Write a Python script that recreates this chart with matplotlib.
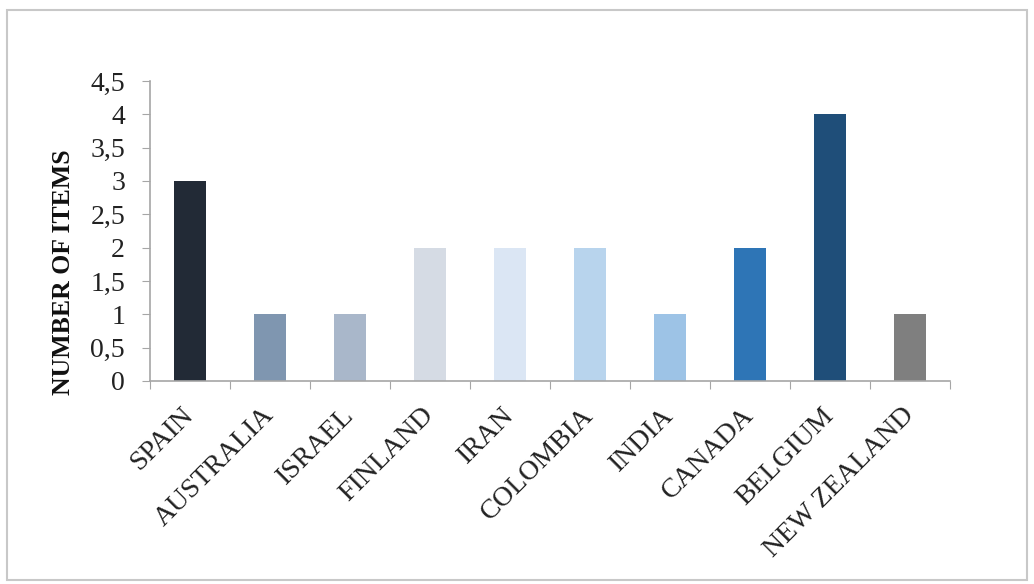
import matplotlib
matplotlib.use("Agg")
import matplotlib.pyplot as plt
from matplotlib.patches import Rectangle

countries = ["SPAIN", "AUSTRALIA", "ISRAEL", "FINLAND", "IRAN", "COLOMBIA",
             "INDIA", "CANADA", "BELGIUM", "NEW ZEALAND"]
items = [3, 1, 1, 2, 2, 2, 1, 2, 4, 1]
bar_colors = ["#222a36", "#7f96b0", "#a9b7ca", "#d5dbe4", "#dbe6f4",
              "#b8d4ed", "#9dc3e6", "#2e75b6", "#1f4e79", "#7f7f7f"]
y_ticks = [0, 0.5, 1, 1.5, 2, 2.5, 3, 3.5, 4, 4.5]
y_tick_labels = ["0", "0,5", "1", "1,5", "2", "2,5", "3", "3,5", "4", "4,5"]

plt.rcParams['font.family'] = ['Liberation Serif', 'DejaVu Serif']

fig = plt.figure(figsize=(10.34, 5.84), dpi=100)
fig.patches.append(Rectangle((7/1034, 4/584), 1020/1034, 570/584,
                             transform=fig.transFigure, fill=False,
                             edgecolor="#c8c8c8", linewidth=1.5))
ax = fig.add_axes([150/1034, 1 - 381/584, 800/1034, 300/584])

x = list(range(len(countries)))
ax.bar(x, items, width=0.4, color=bar_colors)
ax.set_xlim(-0.5, len(countries) - 0.5)
ax.set_ylim(0, 4.5)

ax.set_yticks(y_ticks)
ax.set_yticklabels(y_tick_labels, fontsize=20, color="#222222")
ax.set_xticks([i - 0.5 for i in range(len(countries) + 1)], minor=False)
ax.set_xticklabels([""] * (len(countries) + 1))
ax.set_xticks(x, minor=True)
ax.set_xticklabels(countries, minor=True, rotation=45, ha='right', va='center',
                   rotation_mode='anchor', fontsize=20, color="#222222")
ax.tick_params(axis='x', which='minor', length=0, pad=22)
ax.tick_params(axis='x', which='major', length=6, color="#a6a6a6", direction='out')
ax.tick_params(axis='y', length=6, color="#a6a6a6", direction='out', pad=12)

for s in ["top", "right"]:
    ax.spines[s].set_visible(False)
for s in ["left", "bottom"]:
    ax.spines[s].set_color("#a6a6a6")
    ax.spines[s].set_linewidth(1.2)

fig.text(63/1034, 1 - 272/584, "NUMBER OF ITEMS", rotation=90, ha='center',
         va='center', fontsize=18.5, fontweight='bold', color="#111111")

fig.savefig("out.png", dpi=100)
